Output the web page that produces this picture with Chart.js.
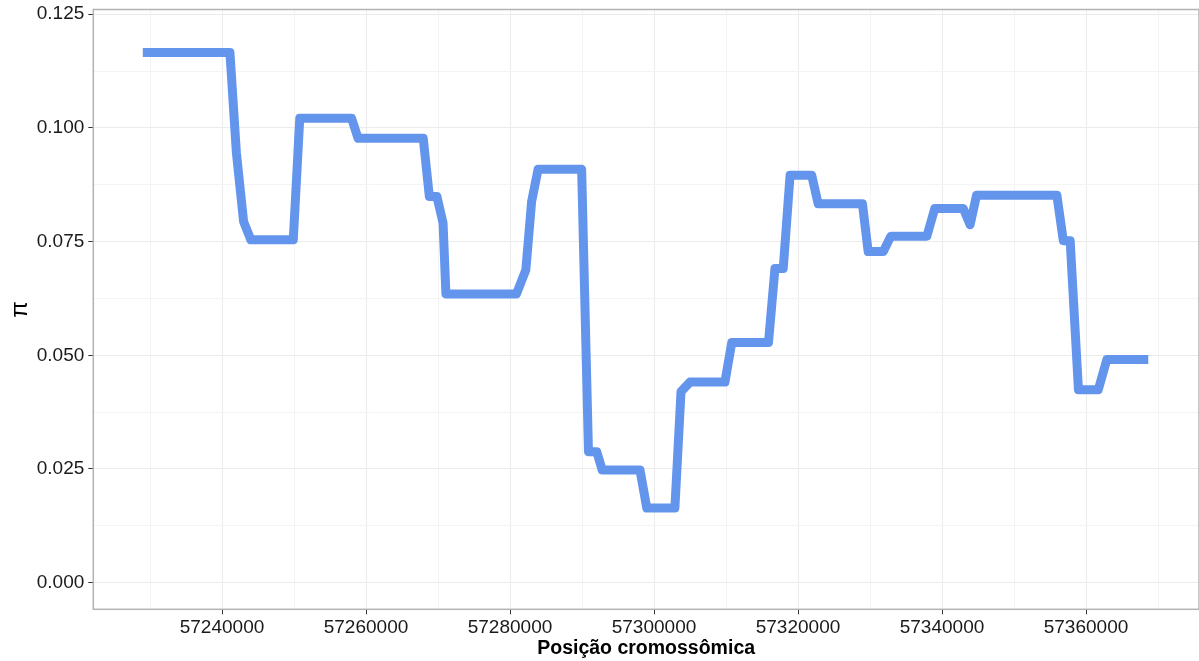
<!DOCTYPE html>
<html>
<head>
<meta charset="utf-8">
<title>Diversidade nucleotídica (π)</title>
<script src="https://cdn.jsdelivr.net/npm/chart.js@4/dist/chart.umd.min.js"></script>
<style>
  html, body { margin: 0; padding: 0; background: #ffffff; }
  canvas { display: block; }
</style>
</head>
<body>
<canvas id="chart" width="1199" height="661"></canvas>
<script>
// Sliding-window nucleotide diversity along the chromosome segment
const positions = [
  57229000, 57241100, 57242000, 57243000, 57244000, 57249900, 57250800, 57258000,
  57258900, 57267950, 57268800, 57269850, 57270700, 57271100, 57280900, 57282200,
  57283000, 57283900, 57289950, 57290900, 57292050, 57292800, 57298050, 57299000,
  57302900, 57303750, 57305000, 57309850, 57310800, 57315900, 57316800, 57317950,
  57318900, 57321900, 57322800, 57328950, 57329750, 57331850, 57332900, 57337900,
  57339000, 57342950, 57343900, 57344800, 57355950, 57356850, 57357800, 57358950,
  57361700, 57362900, 57368650
];
const piValues = [
  0.1166, 0.1166, 0.0945, 0.0794, 0.0754, 0.0754, 0.1021, 0.1021,
  0.0977, 0.0977, 0.0849, 0.0849, 0.0791, 0.0635, 0.0635, 0.0688,
  0.0838, 0.0909, 0.0909, 0.0288, 0.0288, 0.0248, 0.0248, 0.0164,
  0.0164, 0.0420, 0.0441, 0.0441, 0.0528, 0.0528, 0.0691, 0.0691,
  0.0896, 0.0896, 0.0833, 0.0833, 0.0728, 0.0728, 0.0762, 0.0762,
  0.0823, 0.0823, 0.0787, 0.0852, 0.0852, 0.0752, 0.0752, 0.0424,
  0.0424, 0.0491, 0.0491
];

// Axis limits
const xLimits = [57222125, 57375694];
const yLimits = [-0.00585, 0.12603];

// Grid positions: labelled (major) and unlabelled (minor) lines
const xMajorTicks = [57240000, 57260000, 57280000, 57300000, 57320000, 57340000, 57360000];
const xMinorTicks = [57230000, 57250000, 57270000, 57290000, 57310000, 57330000, 57350000, 57370000];
const yMajorTicks = [0, 0.025, 0.05, 0.075, 0.1, 0.125];
const yMinorTicks = [0.0125, 0.0375, 0.0625, 0.0875, 0.1125];

const points = positions.map((p, i) => ({ x: p, y: piValues[i] }));

const tickList = (major, minor) =>
  major.map(v => ({ value: v, major: true }))
    .concat(minor.map(v => ({ value: v, major: false })))
    .sort((a, b) => a.value - b.value);

const FONT = "'Liberation Sans', Arial, Helvetica, sans-serif";

// Panel frame drawn around the plotting area
const panelFrame = {
  id: 'panelFrame',
  afterDatasetsDraw(chart) {
    const { ctx, chartArea: a } = chart;
    ctx.save();
    ctx.strokeStyle = '#b3b3b3';
    ctx.lineWidth = 1.5;
    ctx.strokeRect(a.left, a.top, a.right - a.left, a.bottom - a.top);
    ctx.restore();
  }
};

const gridColor = ctx => (ctx.tick && ctx.tick.major) ? '#ebebeb' : '#f4f4f4';
const tickMarkColor = ctx => (ctx.tick && ctx.tick.major) ? '#333333' : 'rgba(0,0,0,0)';

new Chart(document.getElementById('chart'), {
  type: 'line',
  data: {
    datasets: [{
      data: points,
      borderColor: '#6495ED',
      borderWidth: 9,
      borderJoinStyle: 'round',
      borderCapStyle: 'butt',
      pointRadius: 0,
      tension: 0,
      fill: false
    }]
  },
  plugins: [panelFrame],
  options: {
    responsive: false,
    animation: false,
    events: [],
    layout: { padding: 0 },
    plugins: {
      legend: { display: false },
      tooltip: { enabled: false }
    },
    scales: {
      x: {
        type: 'linear',
        min: xLimits[0],
        max: xLimits[1],
        border: { display: false },
        grid: { color: gridColor, tickColor: tickMarkColor, tickLength: 5, lineWidth: 1 },
        afterBuildTicks(scale) {
          scale.ticks = tickList(xMajorTicks, xMinorTicks);
        },
        ticks: {
          autoSkip: false,
          maxRotation: 0,
          padding: 2,
          color: '#1a1a1a',
          font: { family: FONT, size: 19 },
          callback: (v, i, ticks) => ticks[i].major ? String(Math.round(v)) : ''
        },
        title: {
          display: true,
          text: 'Posição cromossômica',
          color: '#000000',
          font: { family: FONT, size: 19.5, weight: 'bold' },
          padding: { top: 0, bottom: 1 }
        },
        afterFit(scale) {
          scale.height = 51.7;
          scale.paddingLeft = 0;
          scale.paddingRight = 0;
        }
      },
      y: {
        type: 'linear',
        min: yLimits[0],
        max: yLimits[1],
        border: { display: false },
        grid: { color: gridColor, tickColor: tickMarkColor, tickLength: 5, lineWidth: 1 },
        afterBuildTicks(scale) {
          scale.ticks = tickList(yMajorTicks, yMinorTicks);
        },
        ticks: {
          autoSkip: false,
          padding: 4,
          color: '#1a1a1a',
          font: { family: FONT, size: 19 },
          callback: (v, i, ticks) => ticks[i].major ? v.toFixed(3) : ''
        },
        title: {
          display: true,
          text: 'π',
          color: '#000000',
          font: { family: FONT, size: 24 },
          padding: { top: 6, bottom: 0 }
        },
        afterFit(scale) {
          scale.width = 93.3;
          scale.paddingTop = 9.5;
          scale.paddingBottom = 0;
        }
      }
    }
  }
});
</script>
</body>
</html>
